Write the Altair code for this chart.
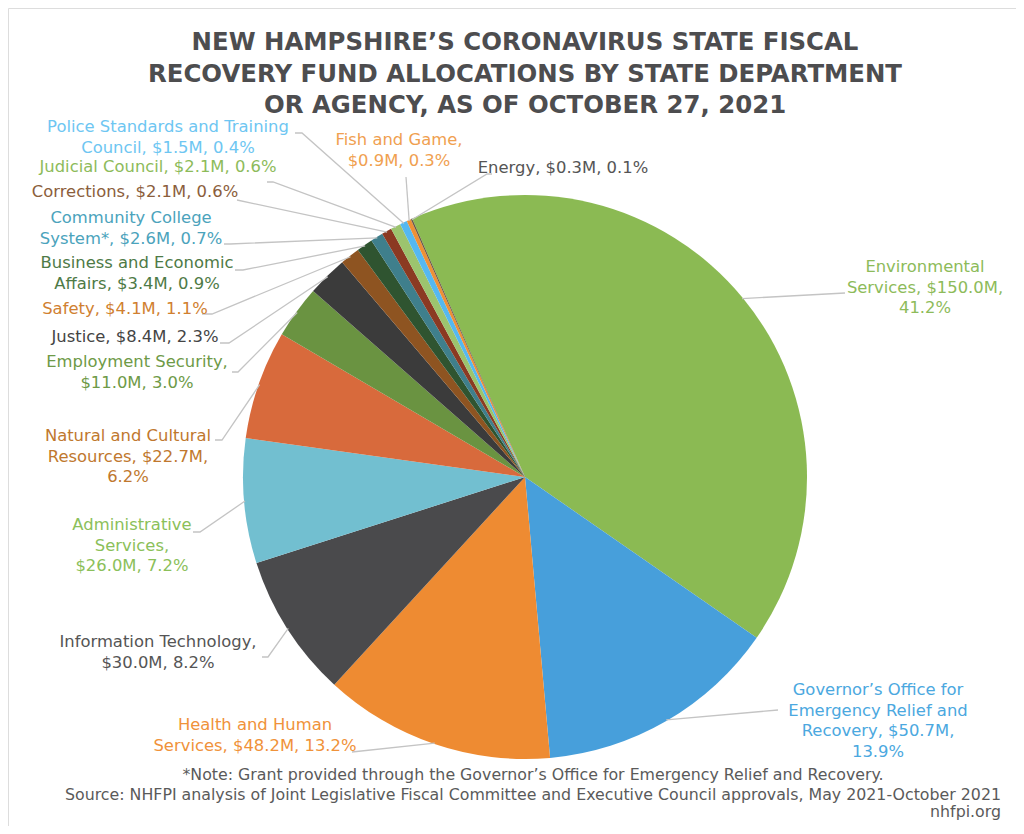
import math
import altair as alt
import pandas as pd

# ---------------- data ----------------
departments = [
    "Environmental Services",
    "Governor’s Office for Emergency Relief and Recovery",
    "Health and Human Services",
    "Information Technology",
    "Administrative Services",
    "Natural and Cultural Resources",
    "Employment Security",
    "Justice",
    "Safety",
    "Business and Economic Affairs",
    "Community College System*",
    "Corrections",
    "Judicial Council",
    "Police Standards and Training Council",
    "Fish and Game",
    "Energy",
]
values_m = [150.0, 50.7, 48.2, 30.0, 26.0, 22.7, 11.0, 8.4, 4.1, 3.4, 2.6, 2.1, 2.1, 1.5, 0.9, 0.3]
percent_text = ["41.2%", "13.9%", "13.2%", "8.2%", "7.2%", "6.2%", "3.0%", "2.3%", "1.1%",
                "0.9%", "0.7%", "0.6%", "0.6%", "0.4%", "0.3%", "0.1%"]
label_lines = [
    ["Environmental", "Services, $150.0M,", "41.2%"],
    ["Governor’s Office for", "Emergency Relief and", "Recovery, $50.7M,", "13.9%"],
    ["Health and Human", "Services, $48.2M, 13.2%"],
    ["Information Technology,", "$30.0M, 8.2%"],
    ["Administrative", "Services,", "$26.0M, 7.2%"],
    ["Natural and Cultural", "Resources, $22.7M,", "6.2%"],
    ["Employment Security,", "$11.0M, 3.0%"],
    ["Justice, $8.4M, 2.3%"],
    ["Safety, $4.1M, 1.1%"],
    ["Business and Economic", "Affairs, $3.4M, 0.9%"],
    ["Community College", "System*, $2.6M, 0.7%"],
    ["Corrections, $2.1M, 0.6%"],
    ["Judicial Council, $2.1M, 0.6%"],
    ["Police Standards and Training", "Council, $1.5M, 0.4%"],
    ["Fish and Game,", "$0.9M, 0.3%"],
    ["Energy, $0.3M, 0.1%"],
]
title_lines = [
    "NEW HAMPSHIRE’S CORONAVIRUS STATE FISCAL",
    "RECOVERY FUND ALLOCATIONS BY STATE DEPARTMENT",
    "OR AGENCY, AS OF OCTOBER 27, 2021",
]
note_lines = [
    "*Note: Grant provided through the Governor’s Office for Emergency Relief and Recovery.",
    "Source: NHFPI analysis of Joint Legislative Fiscal Committee and Executive Council approvals, May 2021-October 2021",
]
site_text = "nhfpi.org"

# ---------------- styles ----------------
slice_colors = ["#8BBA53", "#479FDB", "#EE8B32", "#4A4A4C", "#72BFD0", "#D86A3C", "#6A9341",
                "#3B3B3B", "#8E5421", "#2F5430", "#3F7F8C", "#8B3A22", "#9CC46E", "#55B8F0",
                "#EE9035", "#6B5A45"]
label_colors = ["#8DBB5A", "#4BA8E0", "#F0923A", "#555555", "#8BC05A", "#C0782E", "#6E9A47",
                "#444444", "#D08030", "#4E7A46", "#4BA3BC", "#8B5E3C", "#8DBB5A", "#6EC6F2",
                "#F0A050", "#555555"]
FONT = "DejaVu Sans"
TITLE_FONT = "DejaVu Sans"

# ---------------- layout (page pixels) ----------------
OFF = 8
CX, CY, R = 525 - OFF, 477 - OFF, 282
START = math.radians(-23.6)
# centre x and first-line centre y of each label
label_first = [(925, 267), (878, 690), (255, 725), (158, 642), (132, 525), (128, 436), (137, 362),
               (135, 337), (125, 309), (137, 263), (131, 218), (135, 192), (158, 167), (168, 127),
               (399, 140), (563, 168)]
leader_from = [(845, 293), (778, 710), (352, 752), (262, 657), (193, 532), (215, 440), (232, 372),
               (220, 343), (202, 314), (235, 270), (224, 244), (237, 200), (267, 182), (295, 133),
               (406, 177), (492, 174)]
elbow_dx = [0, 0, 0, 6, 7, 7, 6, 9, 10, 8, 6, 0, 6, 7, 0, -5]

total = sum(values_m)

pie_df = pd.DataFrame({"dept": departments, "value": values_m, "idx": list(range(len(values_m)))})

arcs = alt.Chart(pie_df).mark_arc(radius=R, stroke=None).encode(
    theta=alt.Theta("value:Q", stack=True,
                    scale=alt.Scale(range=[START, START + 2 * math.pi])),
    color=alt.Color("dept:N", scale=alt.Scale(domain=departments, range=slice_colors), legend=None),
    order=alt.Order("idx:Q"),
    x=alt.value(CX),
    y=alt.value(CY),
)

# leader lines: label end -> elbow -> slice mid-point on rim
rows = []
cum = 0.0
for i, v in enumerate(values_m):
    mid = START + 2 * math.pi * (cum + v / 2) / total
    cum += v
    ex = CX + (R - 1) * math.sin(mid)
    ey = CY - (R - 1) * math.cos(mid)
    lx, ly = leader_from[i]
    lx -= OFF
    ly -= OFF
    pts = [(lx, ly)]
    if elbow_dx[i]:
        pts.append((lx + elbow_dx[i], ly))
    pts.append((ex, ey))
    for k, (px, py) in enumerate(pts):
        rows.append({"id": i, "k": k, "x": px, "y": py})
lines_df = pd.DataFrame(rows)

leaders = alt.Chart(lines_df).mark_line(color="#C4C4C4", strokeWidth=1.3).encode(
    x=alt.X("x:Q", scale=None, axis=None),
    y=alt.Y("y:Q", scale=None, axis=None),
    detail="id:N",
    order="k:Q",
)

lab_df = pd.DataFrame({
    "text": ["\n".join(l) for l in label_lines],
    "lx": [p[0] - OFF for p in label_first],
    "ly": [p[1] - OFF for p in label_first],
    "tc": label_colors,
})
labels = alt.Chart(lab_df).mark_text(
    font=FONT, fontSize=16.4, lineHeight=20.7, align="center", baseline="middle", lineBreak="\n"
).encode(
    x=alt.X("lx:Q", scale=None, axis=None),
    y=alt.Y("ly:Q", scale=None, axis=None),
    text="text:N",
    color=alt.Color("tc:N", scale=None),
)

title = alt.Chart(pd.DataFrame({"t": ["\n".join(title_lines)]})).mark_text(
    font=TITLE_FONT, fontSize=24.4, fontWeight="bold", lineHeight=31.7, align="center",
    baseline="alphabetic", lineBreak="\n", color="#4D4D4F"
).encode(text="t:N", x=alt.value(525 - OFF), y=alt.value(50 - OFF))

notes = alt.Chart(pd.DataFrame({"t": ["\n".join(note_lines)]})).mark_text(
    font=FONT, fontSize=15.8, lineHeight=20, align="center", baseline="middle",
    lineBreak="\n", color="#5A5A5A"
).encode(text="t:N", x=alt.value(533 - OFF), y=alt.value(775 - OFF))

site = alt.Chart(pd.DataFrame({"t": [site_text]})).mark_text(
    font=FONT, fontSize=15.8, align="right", baseline="middle", color="#5A5A5A"
).encode(text="t:N", x=alt.value(1001 - OFF), y=alt.value(812 - OFF))

chart = alt.layer(arcs, leaders, labels, title, notes, site).properties(
    width=1008, height=818, padding=0, autosize=alt.AutoSizeParams(type="none")
).configure_view(stroke=None).configure(background="white")

chart.save("out.html", embed_options={"renderer": "svg", "actions": False})
